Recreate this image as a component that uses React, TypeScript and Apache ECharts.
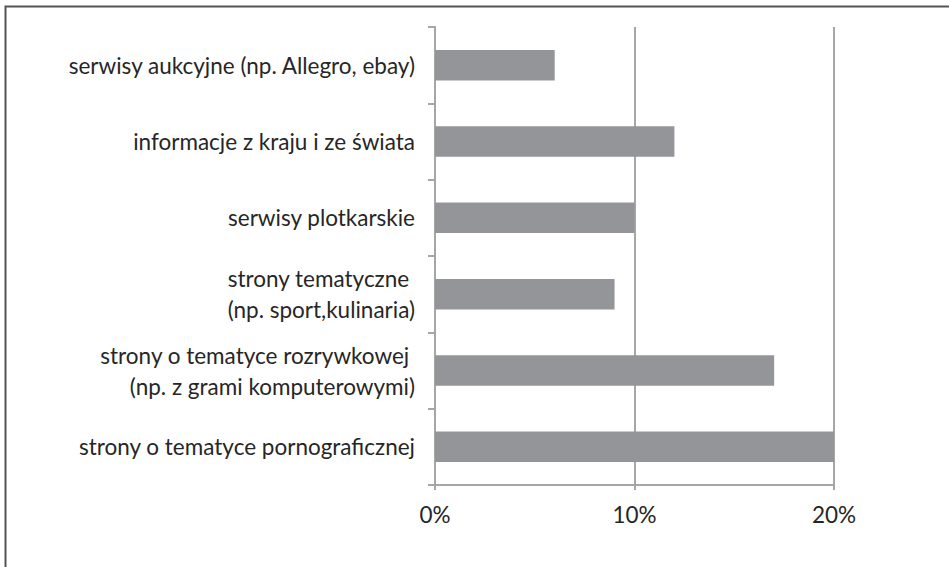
import React, { useEffect, useRef } from "react";
import * as echarts from "echarts";

const categories = [
  "serwisy aukcyjne (np. Allegro, ebay)",
  "informacje z kraju i ze świata",
  "serwisy plotkarskie",
  "strony tematyczne \n(np. sport,kulinaria)",
  "strony o tematyce rozrywkowej \n(np. z grami komputerowymi)",
  "strony o tematyce pornograficznej",
];
const values = [0.06, 0.12, 0.1, 0.09, 0.17, 0.2];
const xTicks = { min: 0, max: 0.2, interval: 0.1 };

export default function App() {
  const ref = useRef<HTMLDivElement>(null);
  useEffect(() => {
    const chart = echarts.init(ref.current!, null, { renderer: "svg" });
    const font = "Lato, sans-serif";
    chart.setOption({
      animation: false,
      backgroundColor: "#ffffff",
      graphic: [
        {
          type: "rect",
          shape: { x: 5.5, y: 6.5, width: 1200, height: 1200 },
          style: { fill: "none", stroke: "#555555", lineWidth: 2 },
          silent: true,
        },
      ],
      grid: { left: 435, top: 27, right: 115, bottom: 82, containLabel: false },
      xAxis: {
        type: "value",
        min: xTicks.min,
        max: xTicks.max,
        interval: xTicks.interval,
        axisLine: { show: true, lineStyle: { color: "#a6a6a6", width: 2 } },
        axisTick: { show: true, length: 5, lineStyle: { color: "#a6a6a6", width: 2 } },
        splitLine: { show: true, lineStyle: { color: "#a6a6a6", width: 2 } },
        axisLabel: {
          margin: 18,
          color: "#262626",
          fontFamily: font,
          fontSize: 22.5,
          formatter: (v: number) => Math.round(v * 100) + "%",
        },
      },
      yAxis: {
        type: "category",
        data: categories,
        inverse: true,
        axisLine: { show: true, lineStyle: { color: "#a6a6a6", width: 2 } },
        axisTick: { show: true, length: 7, lineStyle: { color: "#a6a6a6", width: 2 } },
        axisLabel: {
          margin: 20,
          color: "#262626",
          fontFamily: font,
          fontSize: 22.5,
          lineHeight: 31,
          align: "right",
        },
      },
      series: [
        {
          type: "bar",
          data: values,
          barCategoryGap: "60%",
          itemStyle: { color: "#939598" },
        },
      ],
    });
    return () => chart.dispose();
  }, []);
  return (
    <div
      ref={ref}
      style={{ position: "fixed", left: 0, top: 0, width: 949, height: 567 }}
    />
  );
}
